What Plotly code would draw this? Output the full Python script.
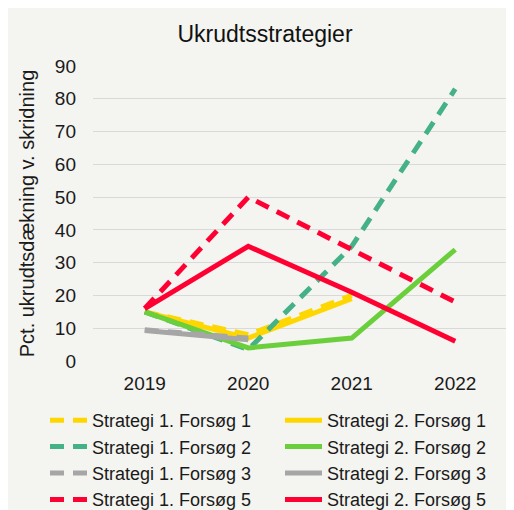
import plotly.graph_objects as go

years = ["2019", "2020", "2021", "2022"]

s1_f1 = [15, 8, 20, None]
s2_f1 = [15, 7, 19, None]
s1_f2 = [15, 3.5, 35, 83]
s2_f2 = [15, 4, 7, 34]
s1_f3 = [9.5, 7, None, None]
s2_f3 = [9.3, 6.5, None, None]
s1_f5 = [16, 50, 34, 18]
s2_f5 = [16, 35, 21, 6]

names = ["Strategi 1. Forsøg 1", "Strategi 2. Forsøg 1",
         "Strategi 1. Forsøg 2", "Strategi 2. Forsøg 2",
         "Strategi 1. Forsøg 3", "Strategi 2. Forsøg 3",
         "Strategi 1. Forsøg 5", "Strategi 2. Forsøg 5"]
series = [s1_f1, s2_f1, s1_f2, s2_f2, s1_f3, s2_f3, s1_f5, s2_f5]
colors = ["#FFD700", "#FFD700", "#45B187", "#6BCF3C",
          "#A6A6A6", "#A6A6A6", "#FF0033", "#FF0033"]
dashes = ["14px,9px", "solid", "14px,9px", "solid",
          "14px,9px", "solid", "14px,9px", "solid"]

FONT = "Liberation Sans, Arial, sans-serif"

fig = go.Figure()
for n, s, c, d in zip(names, series, colors, dashes):
    fig.add_trace(go.Scatter(x=years, y=s, name=n, mode="lines",
                             line=dict(color=c, width=5, dash=d),
                             connectgaps=False))

# figure placed at page offset (8, 8) by the body margin
W, H = 506, 502
L, R, T, B = 85, 7, 58, 149
pw, ph = W - L - R, H - T - B

def px(x):
    return (x - L) / pw

def py(y):
    return (H - B - y) / ph

fig.update_layout(
    width=W, height=H,
    margin=dict(l=L, r=R, t=T, b=B, autoexpand=False),
    paper_bgcolor="#F4F4F0",
    plot_bgcolor="rgba(0,0,0,0)",
    font=dict(family=FONT, color="#1a1a1a"),
    title=dict(text="Ukrudtsstrategier", x=px(257), xanchor="center",
               xref="paper", y=1 - 26 / H, yanchor="middle",
               font=dict(size=23, family=FONT, color="#111")),
    showlegend=True,
    legend=dict(orientation="h", x=px(37), xanchor="left",
                y=py(394), yanchor="top",
                entrywidth=183, entrywidthmode="pixels",
                font=dict(size=18, family=FONT, color="#1a1a1a"),
                itemwidth=37, tracegroupgap=0,
                bgcolor="rgba(0,0,0,0)"),
    xaxis=dict(type="category", range=[-0.5, 3.5], showgrid=False,
               showline=False, zeroline=False, ticks="",
               ticklabelstandoff=9,
               tickfont=dict(size=19, family=FONT, color="#1a1a1a")),
    yaxis=dict(range=[0, 90], dtick=10, tick0=0, showgrid=True,
               gridcolor="#D9D9D9", gridwidth=1, zeroline=False,
               showline=False, ticks="", ticklabelstandoff=16,
               tickfont=dict(size=19, family=FONT, color="#1a1a1a"),
               title=dict(text="Pct. ukrudtsdækning v. skridning",
                          font=dict(size=20, family=FONT, color="#1a1a1a"),
                          standoff=14)),
)

fig.write_html("out.html")
